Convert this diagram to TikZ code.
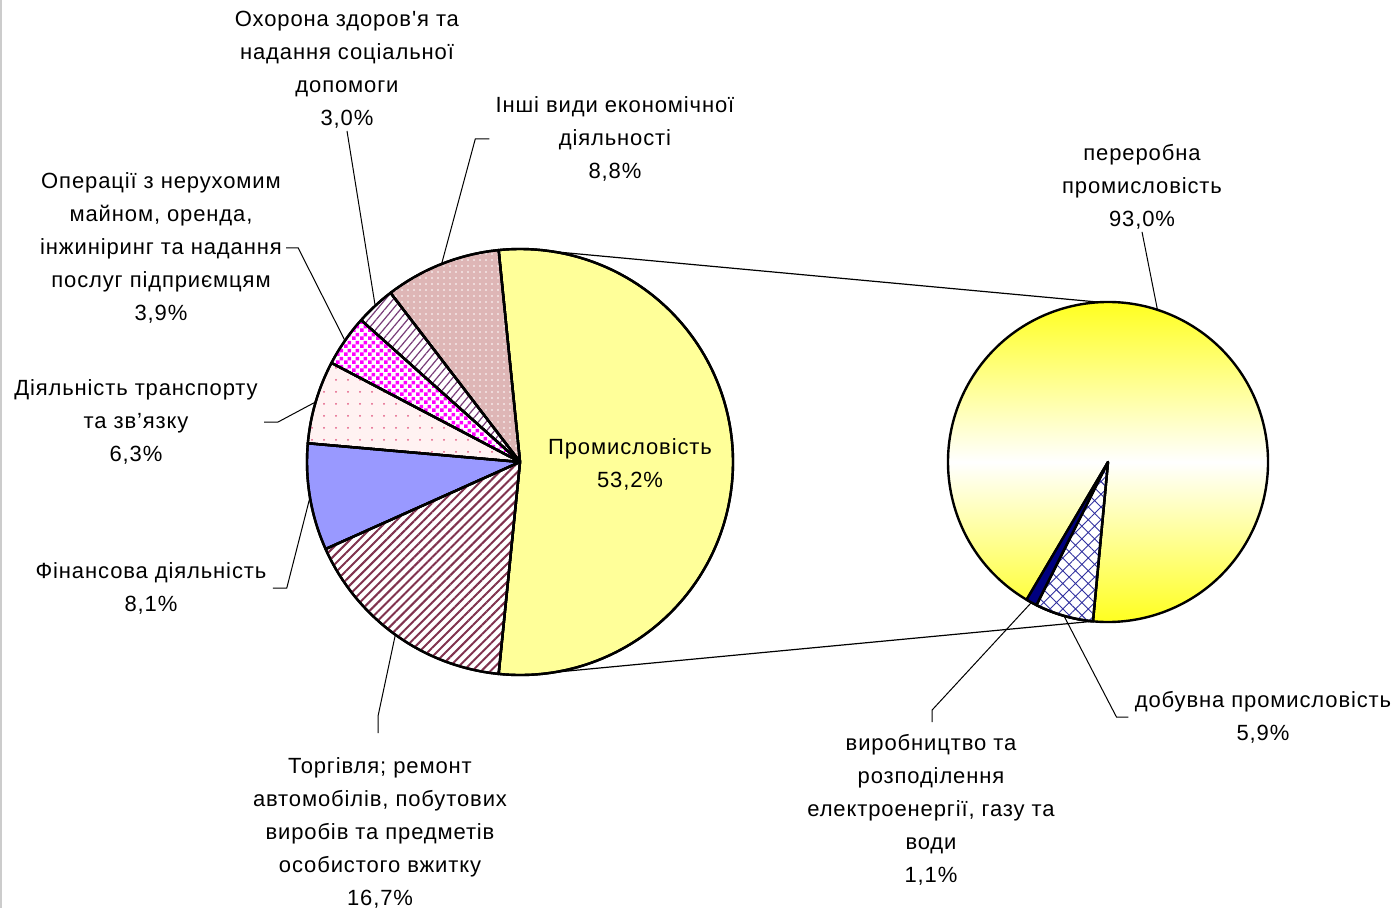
\documentclass[tikz,border=0pt]{standalone}
\usepackage{fontspec}
\setmainfont{Liberation Sans}[LetterSpace=4, Ligatures=TeXOff]
\usetikzlibrary{patterns.meta}

\definecolor{indyellow}{RGB}{255,255,153}
\definecolor{otherpink}{RGB}{222,182,182}
\definecolor{hatchpurple}{RGB}{120,60,120}
\definecolor{checkmag}{RGB}{255,0,255}
\definecolor{dotpink}{RGB}{255,242,242}
\definecolor{dotred}{RGB}{225,90,130}
\definecolor{finblue}{RGB}{153,153,255}
\definecolor{trademaroon}{RGB}{128,50,78}
\definecolor{navyblue}{RGB}{0,0,128}
\definecolor{hatchblue}{RGB}{50,50,160}

% small magenta/white checkerboard
\tikzdeclarepattern{
  name=checker,
  type=uncolored,
  bounding box={(0pt,0pt) and (4pt,4pt)},
  tile size={(4pt,4pt)},
  code={\fill (0pt,0pt) rectangle (2pt,2pt); \fill (2pt,2pt) rectangle (4pt,4pt);}
}

\newcommand{\pieslice}[5]{%
  \path[#5] (#1) -- ++(#3:#2) arc[start angle=#3, end angle=#4, radius=#2] -- cycle;}

\tikzset{
  slice/.style={draw=black, line width=1.2pt, line join=round},
  leader/.style={draw=black, line width=0.5pt},
  label/.style={align=center, inner sep=1pt, font=\fontsize{11}{16.5}\selectfont},
}

\begin{document}
\begin{tikzpicture}[x=0.5pt, y=0.5pt]
  \useasboundingbox (0,0) rectangle (1400,-908);
  \fill[white] (0,0) rectangle (1400,-908);
  \draw[black!20, line width=0.6pt] (1,0) -- (1,-908);

  \coordinate (M) at (520,-462);
  \coordinate (S) at (1108,-462);

  % ---- main pie ----
  \pieslice{M}{213}{-95.76}{95.76}{slice, fill=indyellow}
  \pieslice{M}{213}{95.76}{127.44}{slice, fill=otherpink,
    postaction={pattern={Dots[distance=3pt, radius=0.45pt]}, pattern color=white}}
  \pieslice{M}{213}{127.44}{138.24}{slice, fill=white,
    postaction={pattern={Lines[angle=50, distance=3pt, line width=0.6pt]}, pattern color=hatchpurple}}
  \pieslice{M}{213}{138.24}{152.28}{slice, fill=white,
    postaction={pattern=checker, pattern color=checkmag}}
  \pieslice{M}{213}{152.28}{174.96}{slice, fill=dotpink,
    postaction={pattern={Dots[distance=6pt, radius=0.5pt]}, pattern color=dotred}}
  \pieslice{M}{213}{174.96}{204.12}{slice, fill=finblue}
  \pieslice{M}{213}{204.12}{264.24}{slice, fill=white,
    postaction={pattern={Lines[angle=45, distance=3.2pt, line width=1pt]}, pattern color=trademaroon}}
  % redraw outlines on top of the patterns
  \foreach \a/\b in {-95.76/95.76, 95.76/127.44, 127.44/138.24, 138.24/152.28,
                     152.28/174.96, 174.96/204.12, 204.12/264.24}{
    \pieslice{M}{213}{\a}{\b}{slice}
  }

  % ---- secondary pie ----
  \pieslice{S}{160}{-120.6}{264.6}{shade, top color=yellow, bottom color=yellow, middle color=white}
  \pieslice{S}{160}{-120.6}{264.6}{slice}
  \pieslice{S}{160}{-116.6}{-95.4}{slice, fill=white,
    postaction={pattern={Hatch[angle=45, distance=4.5pt, line width=0.45pt]}, pattern color=hatchblue}}
  \pieslice{S}{160}{-116.6}{-95.4}{slice}
  \pieslice{S}{160}{-120.6}{-116.6}{slice, fill=navyblue}

  % ---- lines joining the two pies ----
  \path (M) ++(81:213) coordinate (mTop);
  \path (M) ++(-81:213) coordinate (mBot);
  \path (S) ++(93:160) coordinate (sTop);
  \path (S) ++(-95.4:160) coordinate (sBot);
  \draw[leader, line width=0.6pt] (mTop) -- (sTop);
  \draw[leader, line width=0.6pt] (mBot) -- (sBot);

  % ---- points on the slices for the leaders ----
  \path (M) ++(111.6:213)  coordinate (pOther);
  \path (M) ++(132.84:213) coordinate (pHealth);
  \path (M) ++(145.26:213) coordinate (pOps);
  \path (M) ++(163.62:213) coordinate (pTrans);
  \path (M) ++(189.54:213) coordinate (pFin);
  \path (M) ++(234.18:213) coordinate (pTrade);
  \path (S) ++(72:160)     coordinate (pProc);
  \path (S) ++(-106:160)   coordinate (pMin);
  \path (S) ++(-118.6:160) coordinate (pUtil);

  % ---- labels ----
  \node[label] (ind) at (630,-464) {Промисловість\\53,2\%};
  \node[label] (health) at (347,-70) {Охорона здоров'я та\\надання соціальної\\допомоги\\3,0\%};
  \node[label] (other) at (615,-139) {Інші види економічної\\діяльності\\8,8\%};
  \node[label] (ops) at (161,-248) {Операції з нерухомим\\майном, оренда,\\інжиніринг та надання\\послуг підприємцям\\3,9\%};
  \node[label] (trans) at (136,-422) {Діяльність транспорту\\та зв’язку\\6,3\%};
  \node[label] (fin) at (151,-588) {Фінансова діяльність\\8,1\%};
  \node[label] (trade) at (380,-833) {Торгівля; ремонт\\автомобілів, побутових\\виробів та предметів\\особистого вжитку\\16,7\%};
  \node[label] (proc) at (1142,-187) {переробна\\промисловість\\93,0\%};
  \node[label] (mining) at (1263,-717) {добувна промисловість\\5,9\%};
  \node[label] (util) at (931,-810) {виробництво та\\розподілення\\електроенергії, газу та\\води\\1,1\%};

  % ---- leaders ----
  \draw[leader] (health.south) -- (pHealth);
  \draw[leader] (other.west) ++(-4,0) coordinate (kOther) -- ++(-14,0) -- (pOther);
  \draw[leader] (ops.east) ++(2,0) coordinate (kOps) -- ++(12,0) -- (pOps);
  \draw[leader] (trans.east) ++(4,0) coordinate (kTrans) -- ++(14,0) -- (pTrans);
  \draw[leader] (fin.east) ++(4,0) coordinate (kFin) -- ++(14,0) -- (pFin);
  \draw[leader] (trade.north) ++(-2,22) coordinate (kTrade) -- ++(0,17) -- (pTrade);
  \draw[leader] (proc.south) -- (pProc);
  \draw[leader] (mining.west) ++(-4,0) coordinate (kMin) -- ++(-12,0) -- (pMin);
  \draw[leader] (util.north) ++(1,10) coordinate (kUtil) -- ++(0,12) -- (pUtil);
\end{tikzpicture}
\end{document}
